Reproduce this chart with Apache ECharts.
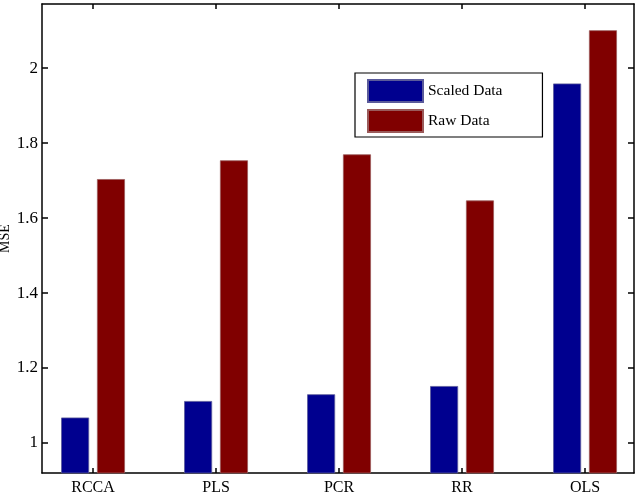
<!DOCTYPE html>
<html>
<head>
<meta charset="utf-8">
<script src="https://cdn.jsdelivr.net/npm/echarts@6/dist/echarts.min.js"></script>
<style>
  html, body { margin: 0; padding: 0; background: #fff; }
  #main { width: 642px; height: 496px; }
</style>
</head>
<body>
<div id="main"></div>
<script>
var categories = ['RCCA', 'PLS', 'PCR', 'RR', 'OLS'];
var scaledData = [1.068, 1.112, 1.130, 1.152, 1.959];
var rawData = [1.704, 1.754, 1.770, 1.647, 2.101];
var yTicks = [1, 1.2, 1.4, 1.6, 1.8, 2];
var xTicks = [1, 2, 3, 4, 5];

var chartDom = document.getElementById('main');
var myChart = echarts.init(chartDom);

function pairs(vals) {
    return vals.map(function (v, i) { return [i + 1, v]; });
}

var font = 'Liberation Serif';
var lineStyle = { color: '#000', width: 1.5 };

var option = {
    backgroundColor: '#fff',
    animation: false,
    textStyle: { fontFamily: font },
    grid: { left: 42, right: 8, top: 4, bottom: 23, containLabel: false, outerBoundsMode: 'none' },
    legend: {
        orient: 'vertical',
        left: 355,
        top: 73,
        itemWidth: 55,
        itemHeight: 22,
        itemGap: 6,
        padding: [6, 40, 4, 12],
        borderColor: '#000',
        borderWidth: 1.2,
        backgroundColor: '#fff',
        icon: 'rect',
        textStyle: { fontFamily: font, fontSize: 15.5, color: '#000' },
        data: ['Scaled Data', 'Raw Data']
    },
    xAxis: [
        {
            type: 'value',
            min: 0.585,
            max: 5.398,
            axisLine: { show: true, lineStyle: lineStyle },
            axisTick: { show: true, inside: true, length: 5, lineStyle: lineStyle, customValues: xTicks },
            axisLabel: {
                customValues: xTicks,
                margin: 7,
                fontFamily: font,
                fontSize: 16,
                color: '#000',
                formatter: function (v) { return categories[Math.round(v) - 1] || ''; }
            },
            splitLine: { show: false }
        },
        {
            type: 'value',
            position: 'top',
            min: 0.585,
            max: 5.398,
            axisLine: { show: true, lineStyle: lineStyle },
            axisTick: { show: true, inside: true, length: 5, lineStyle: lineStyle, customValues: xTicks },
            axisLabel: { show: false },
            splitLine: { show: false }
        }
    ],
    yAxis: [
        {
            type: 'value',
            min: 0.92,
            max: 2.171,
            name: 'MSE',
            nameLocation: 'middle',
            nameGap: 30,
            nameMoveOverlap: false,
            nameTextStyle: { fontFamily: font, fontSize: 14, color: '#000' },
            axisLine: { show: true, lineStyle: lineStyle },
            axisTick: { show: true, inside: true, length: 6, lineStyle: lineStyle, customValues: yTicks },
            axisLabel: { customValues: yTicks, margin: 4, fontFamily: font, fontSize: 17, color: '#000' },
            splitLine: { show: false }
        },
        {
            type: 'value',
            position: 'right',
            min: 0.92,
            max: 2.171,
            axisLine: { show: true, lineStyle: lineStyle },
            axisTick: { show: true, inside: true, length: 6, lineStyle: lineStyle, customValues: yTicks },
            axisLabel: { show: false },
            splitLine: { show: false }
        }
    ],
    series: [
        {
            name: 'Scaled Data',
            type: 'bar',
            barWidth: 28,
            barGap: '28%',
            itemStyle: { color: '#00008f', borderColor: '#5a5a9a', borderWidth: 0.8 },
            data: pairs(scaledData)
        },
        {
            name: 'Raw Data',
            type: 'bar',
            barWidth: 28,
            barGap: '28%',
            itemStyle: { color: '#800000', borderColor: '#9a5a5a', borderWidth: 0.8 },
            data: pairs(rawData)
        }
    ]
};

myChart.setOption(option);
</script>
</body>
</html>
